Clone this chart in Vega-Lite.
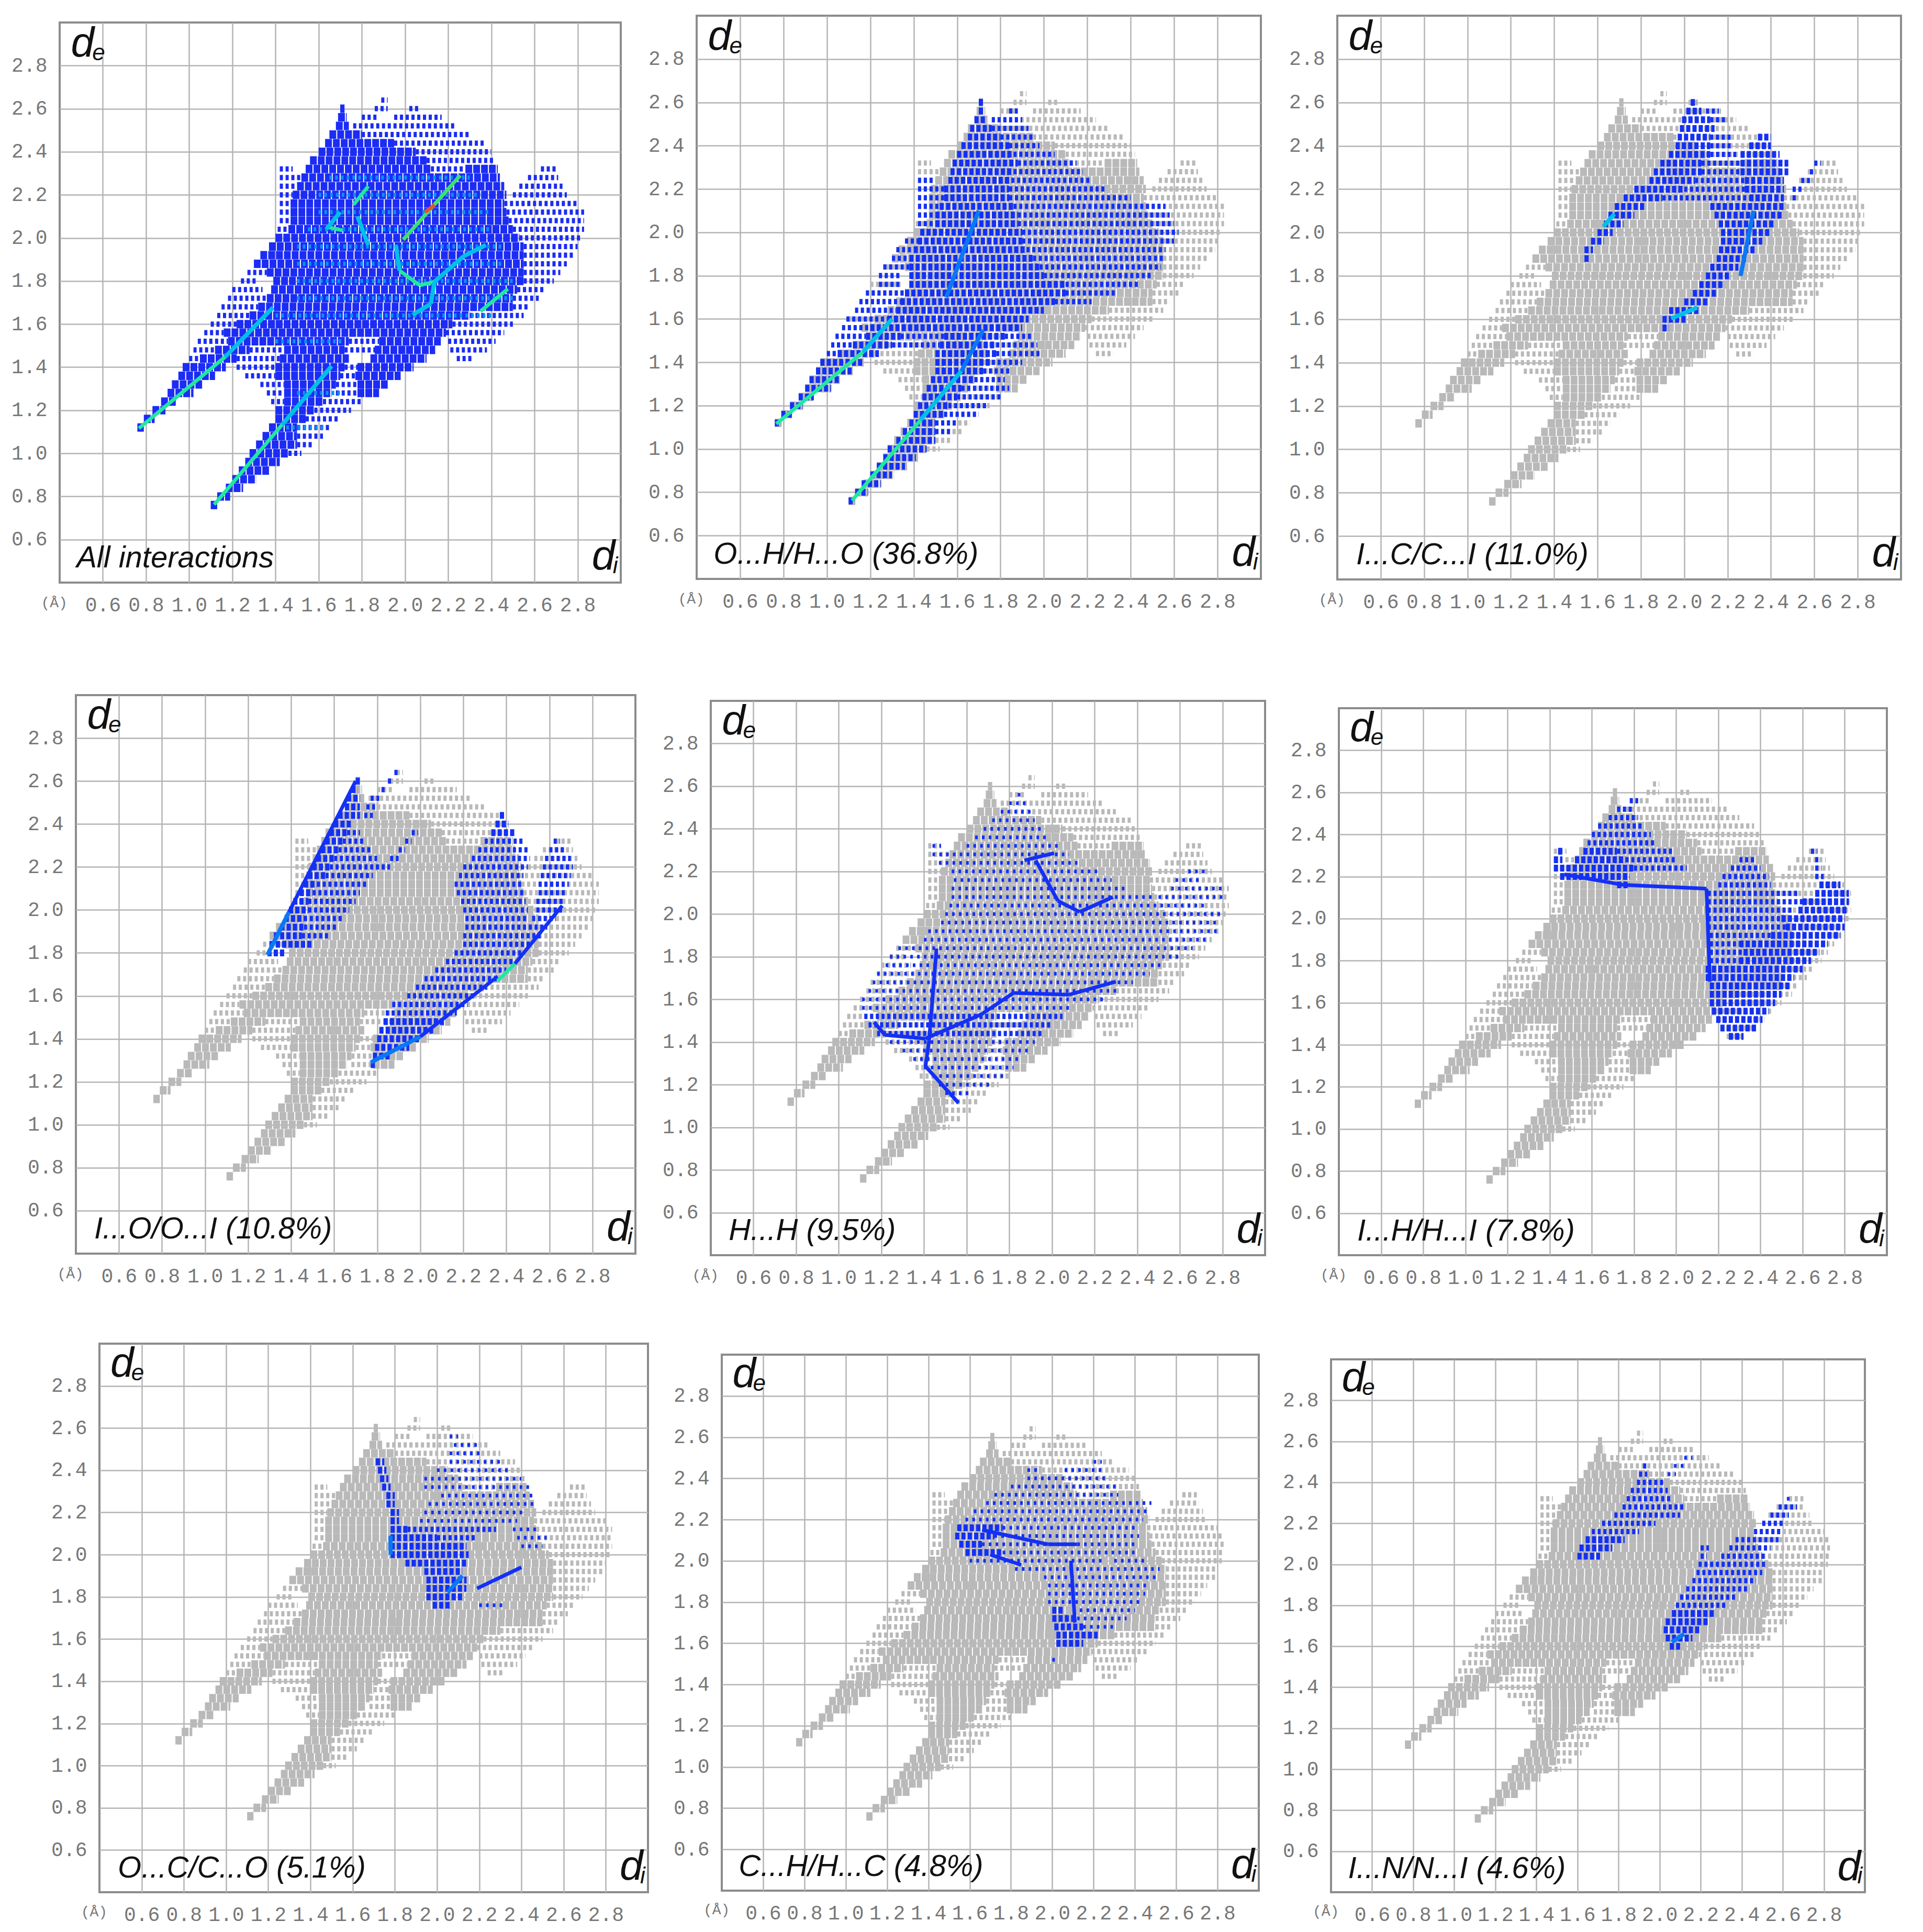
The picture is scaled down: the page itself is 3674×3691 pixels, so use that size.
{"$schema":"https://vega.github.io/schema/vega-lite/v6.json","padding":{"left":17,"top":28,"right":0,"bottom":0},"background":"white",
"config":{"view":{"stroke":null},"legend":{"disable":true},"axis":{"title":null,"domain":false,"ticks":false,"grid":true,"gridColor":"#b4b4b4","gridWidth":2.5,"labelFont":"Liberation Mono","labelFontSize":38,"labelColor":"#777777","labelOverlap":false,"labelFlush":false,"labelBound":false,"labelPadding":24}},
"datasets":{
"unit":[{"a":0.375,"y":0.305,"s":"(Å)"}],
"labels":[{"p":0,"a":0.452,"y":2.843,"s":"d","t":"L"},{"p":0,"a":0.551,"y":2.826,"s":"e","t":"M"},{"p":0,"a":2.866,"y":0.46,"s":"d","t":"L"},{"p":0,"a":2.963,"y":0.443,"s":"i","t":"M"},
{"p":1,"a":0.478,"y":0.47,"s":"All interactions","t":"T"},{"p":2,"a":0.478,"y":0.47,"s":"O...H/H...O (36.8%)","t":"T"},{"p":3,"a":0.487,"y":0.47,"s":"I...C/C...I (11.0%)","t":"T"},{"p":4,"a":0.485,"y":0.47,"s":"I...O/O...I (10.8%)","t":"T"},{"p":5,"a":0.484,"y":0.47,"s":"H...H (9.5%)","t":"T"},{"p":6,"a":0.487,"y":0.47,"s":"I...H/H...I (7.8%)","t":"T"},{"p":7,"a":0.487,"y":0.47,"s":"O...C/C...O (5.1%)","t":"T"},{"p":8,"a":0.482,"y":0.47,"s":"C...H/H...C (4.8%)","t":"T"},{"p":9,"a":0.483,"y":0.47,"s":"I...N/N...I (4.6%)","t":"T"}],
"cloud":[
{"y":0.76,"a":1.10,"b":1.13,"t":"a"},{"y":0.80,"a":1.13,"b":1.19,"t":"a"},{"y":0.84,"a":1.17,"b":1.25,"t":"a"},{"y":0.88,"a":1.20,"b":1.31,"t":"a"},{"y":0.92,"a":1.23,"b":1.37,"t":"a"},{"y":0.96,"a":1.26,"b":1.42,"t":"a"},
{"y":1.00,"a":1.28,"b":1.46,"t":"a"},{"y":1.00,"a":1.46,"b":1.52,"t":"b"},{"y":1.04,"a":1.31,"b":1.50,"t":"a"},{"y":1.04,"a":1.50,"b":1.58,"t":"b"},{"y":1.08,"a":1.34,"b":1.50,"t":"a"},{"y":1.08,"a":1.50,"b":1.62,"t":"b"},
{"y":1.12,"a":0.76,"b":0.79,"t":"a"},{"y":1.12,"a":1.37,"b":1.50,"t":"a"},{"y":1.12,"a":1.50,"b":1.66,"t":"b"},{"y":1.16,"a":0.79,"b":0.84,"t":"a"},{"y":1.16,"a":1.40,"b":1.54,"t":"a"},{"y":1.16,"a":1.54,"b":1.70,"t":"b"},
{"y":1.20,"a":0.83,"b":0.89,"t":"a"},{"y":1.20,"a":1.40,"b":1.58,"t":"a"},{"y":1.20,"a":1.58,"b":1.75,"t":"b"},{"y":1.24,"a":0.87,"b":0.94,"t":"a"},{"y":1.24,"a":1.38,"b":1.44,"t":"b"},{"y":1.24,"a":1.44,"b":1.62,"t":"a"},{"y":1.24,"a":1.62,"b":1.80,"t":"b"},
{"y":1.28,"a":0.90,"b":1.02,"t":"a"},{"y":1.28,"a":1.36,"b":1.44,"t":"b"},{"y":1.28,"a":1.44,"b":1.66,"t":"a"},{"y":1.28,"a":1.68,"b":1.78,"t":"b"},{"y":1.28,"a":1.78,"b":1.88,"t":"a"},
{"y":1.32,"a":0.92,"b":1.06,"t":"a"},{"y":1.32,"a":1.33,"b":1.44,"t":"b"},{"y":1.32,"a":1.44,"b":1.68,"t":"a"},{"y":1.32,"a":1.68,"b":1.78,"t":"b"},{"y":1.32,"a":1.78,"b":1.92,"t":"a"},
{"y":1.36,"a":0.95,"b":1.12,"t":"a"},{"y":1.36,"a":1.26,"b":1.40,"t":"b"},{"y":1.36,"a":1.40,"b":1.70,"t":"a"},{"y":1.36,"a":1.70,"b":1.77,"t":"b"},{"y":1.36,"a":1.77,"b":1.98,"t":"a"},
{"y":1.40,"a":0.97,"b":1.17,"t":"a"},{"y":1.40,"a":1.22,"b":1.40,"t":"b"},{"y":1.40,"a":1.40,"b":1.72,"t":"a"},{"y":1.40,"a":1.72,"b":1.78,"t":"b"},{"y":1.40,"a":1.78,"b":2.04,"t":"a"},
{"y":1.44,"a":1.00,"b":1.05,"t":"b"},{"y":1.44,"a":1.05,"b":1.22,"t":"a"},{"y":1.44,"a":1.22,"b":1.42,"t":"b"},{"y":1.44,"a":1.42,"b":1.74,"t":"a"},{"y":1.44,"a":1.84,"b":2.10,"t":"a"},{"y":1.44,"a":2.24,"b":2.32,"t":"b"},
{"y":1.48,"a":1.02,"b":1.12,"t":"b"},{"y":1.48,"a":1.12,"b":1.28,"t":"a"},{"y":1.48,"a":1.28,"b":1.44,"t":"b"},{"y":1.48,"a":1.44,"b":1.72,"t":"a"},{"y":1.48,"a":1.72,"b":1.86,"t":"b"},{"y":1.48,"a":1.86,"b":2.14,"t":"a"},{"y":1.48,"a":2.21,"b":2.38,"t":"b"},
{"y":1.52,"a":1.04,"b":1.18,"t":"b"},{"y":1.52,"a":1.18,"b":1.74,"t":"a"},{"y":1.52,"a":1.74,"b":1.88,"t":"b"},{"y":1.52,"a":1.88,"b":2.17,"t":"a"},{"y":1.52,"a":2.20,"b":2.42,"t":"b"},
{"y":1.56,"a":1.07,"b":1.16,"t":"b"},{"y":1.56,"a":1.16,"b":2.19,"t":"a"},{"y":1.56,"a":2.19,"b":2.46,"t":"b"},
{"y":1.60,"a":1.10,"b":1.22,"t":"b"},{"y":1.60,"a":1.22,"b":2.22,"t":"a"},{"y":1.60,"a":2.22,"b":2.50,"t":"b"},
{"y":1.64,"a":1.13,"b":1.28,"t":"b"},{"y":1.64,"a":1.28,"b":2.30,"t":"a"},{"y":1.64,"a":2.30,"b":2.55,"t":"b"},
{"y":1.68,"a":1.15,"b":1.32,"t":"b"},{"y":1.68,"a":1.32,"b":2.50,"t":"a"},{"y":1.68,"a":2.50,"b":2.58,"t":"b"},
{"y":1.72,"a":1.18,"b":1.36,"t":"b"},{"y":1.72,"a":1.36,"b":2.50,"t":"a"},{"y":1.72,"a":2.50,"b":2.62,"t":"b"},
{"y":1.76,"a":1.20,"b":1.34,"t":"b"},{"y":1.76,"a":1.38,"b":2.52,"t":"a"},{"y":1.76,"a":2.52,"b":2.65,"t":"b"},
{"y":1.80,"a":1.24,"b":1.32,"t":"b"},{"y":1.80,"a":1.39,"b":2.55,"t":"a"},{"y":1.80,"a":2.55,"b":2.69,"t":"b"},
{"y":1.84,"a":1.27,"b":1.36,"t":"b"},{"y":1.84,"a":1.36,"b":2.55,"t":"a"},{"y":1.84,"a":2.55,"b":2.72,"t":"b"},
{"y":1.88,"a":1.30,"b":2.55,"t":"a"},{"y":1.88,"a":2.55,"b":2.75,"t":"b"},{"y":1.92,"a":1.33,"b":2.55,"t":"a"},{"y":1.92,"a":2.55,"b":2.79,"t":"b"},{"y":1.96,"a":1.37,"b":2.55,"t":"a"},{"y":1.96,"a":2.55,"b":2.80,"t":"b"},
{"y":2.00,"a":1.40,"b":2.53,"t":"a"},{"y":2.00,"a":2.53,"b":2.82,"t":"b"},{"y":2.04,"a":1.41,"b":1.46,"t":"b"},{"y":2.04,"a":1.46,"b":2.50,"t":"a"},{"y":2.04,"a":2.50,"b":2.83,"t":"b"},
{"y":2.08,"a":1.42,"b":1.47,"t":"b"},{"y":2.08,"a":1.47,"b":2.48,"t":"a"},{"y":2.08,"a":2.48,"b":2.83,"t":"b"},{"y":2.12,"a":1.42,"b":1.47,"t":"b"},{"y":2.12,"a":1.47,"b":2.47,"t":"a"},{"y":2.12,"a":2.47,"b":2.83,"t":"b"},
{"y":2.16,"a":1.42,"b":1.47,"t":"b"},{"y":2.16,"a":1.47,"b":2.46,"t":"a"},{"y":2.16,"a":2.46,"b":2.80,"t":"b"},{"y":2.20,"a":1.42,"b":1.48,"t":"b"},{"y":2.20,"a":1.48,"b":2.47,"t":"a"},{"y":2.20,"a":2.50,"b":2.75,"t":"b"},
{"y":2.24,"a":1.42,"b":1.50,"t":"b"},{"y":2.24,"a":1.50,"b":2.46,"t":"a"},{"y":2.24,"a":2.53,"b":2.73,"t":"b"},{"y":2.28,"a":1.42,"b":1.52,"t":"b"},{"y":2.28,"a":1.52,"b":2.44,"t":"a"},{"y":2.28,"a":2.57,"b":2.71,"t":"b"},
{"y":2.32,"a":1.42,"b":1.48,"t":"b"},{"y":2.32,"a":1.54,"b":2.12,"t":"a"},{"y":2.32,"a":2.12,"b":2.28,"t":"b"},{"y":2.32,"a":2.28,"b":2.43,"t":"a"},{"y":2.32,"a":2.63,"b":2.70,"t":"b"},
{"y":2.36,"a":1.56,"b":2.10,"t":"a"},{"y":2.36,"a":2.10,"b":2.42,"t":"b"},{"y":2.40,"a":1.60,"b":2.05,"t":"a"},{"y":2.40,"a":2.05,"b":2.40,"t":"b"},{"y":2.44,"a":1.63,"b":1.95,"t":"a"},{"y":2.44,"a":1.95,"b":2.37,"t":"b"},
{"y":2.48,"a":1.65,"b":1.80,"t":"a"},{"y":2.48,"a":1.80,"b":2.30,"t":"b"},{"y":2.52,"a":1.68,"b":1.74,"t":"a"},{"y":2.52,"a":1.76,"b":2.24,"t":"b"},{"y":2.56,"a":1.69,"b":1.73,"t":"a"},{"y":2.56,"a":1.80,"b":1.87,"t":"b"},{"y":2.56,"a":1.95,"b":2.17,"t":"b"},
{"y":2.60,"a":1.70,"b":1.72,"t":"a"},{"y":2.60,"a":1.86,"b":1.92,"t":"b"},{"y":2.60,"a":2.02,"b":2.07,"t":"b"},{"y":2.64,"a":1.89,"b":1.92,"t":"b"}],
"blue":[
{"p":1,"y":1.12,"a":1.45,"b":1.62,"t":"m"},{"p":1,"y":1.28,"a":1.5,"b":1.7,"t":"m"},{"p":1,"y":1.52,"a":1.4,"b":1.72,"t":"m"},{"p":1,"y":1.64,"a":1.4,"b":2.4,"t":"m"},{"p":1,"y":1.72,"a":1.5,"b":2.5,"t":"m"},{"p":1,"y":1.80,"a":1.5,"b":2.5,"t":"m"},{"p":1,"y":1.88,"a":1.5,"b":2.45,"t":"m"},{"p":1,"y":1.96,"a":1.5,"b":2.45,"t":"m"},{"p":1,"y":2.04,"a":1.55,"b":2.4,"t":"m"},{"p":1,"y":2.12,"a":1.6,"b":2.4,"t":"m"},{"p":1,"y":2.20,"a":1.6,"b":2.35,"t":"m"},{"p":1,"y":2.28,"a":1.65,"b":2.3,"t":"m"},
{"p":2,"y":0.76,"a":1.10,"b":1.13,"t":"d"},{"p":2,"y":0.80,"a":1.13,"b":1.19,"t":"d"},{"p":2,"y":0.84,"a":1.16,"b":1.25,"t":"d"},{"p":2,"y":0.88,"a":1.20,"b":1.30,"t":"d"},{"p":2,"y":0.92,"a":1.23,"b":1.36,"t":"d"},{"p":2,"y":0.96,"a":1.26,"b":1.41,"t":"d"},{"p":2,"y":1.00,"a":1.28,"b":1.46,"t":"d"},{"p":2,"y":1.04,"a":1.32,"b":1.50,"t":"d"},{"p":2,"y":1.08,"a":1.35,"b":1.50,"t":"d"},{"p":2,"y":1.08,"a":1.50,"b":1.58,"t":"s"},
{"p":2,"y":1.12,"a":0.76,"b":0.79,"t":"d"},{"p":2,"y":1.12,"a":1.38,"b":1.50,"t":"d"},{"p":2,"y":1.12,"a":1.50,"b":1.60,"t":"s"},{"p":2,"y":1.16,"a":0.79,"b":0.84,"t":"d"},{"p":2,"y":1.16,"a":1.40,"b":1.54,"t":"d"},{"p":2,"y":1.16,"a":1.54,"b":1.70,"t":"s"},{"p":2,"y":1.20,"a":0.83,"b":0.89,"t":"d"},{"p":2,"y":1.20,"a":1.42,"b":1.56,"t":"d"},{"p":2,"y":1.20,"a":1.56,"b":1.74,"t":"s"},{"p":2,"y":1.24,"a":0.87,"b":0.94,"t":"d"},{"p":2,"y":1.24,"a":1.44,"b":1.60,"t":"d"},{"p":2,"y":1.24,"a":1.60,"b":1.80,"t":"s"},{"p":2,"y":1.28,"a":0.90,"b":1.02,"t":"d"},{"p":2,"y":1.28,"a":1.46,"b":1.62,"t":"d"},{"p":2,"y":1.28,"a":1.62,"b":1.84,"t":"s"},{"p":2,"y":1.32,"a":0.92,"b":1.06,"t":"d"},{"p":2,"y":1.32,"a":1.48,"b":1.68,"t":"d"},{"p":2,"y":1.32,"a":1.68,"b":1.82,"t":"s"},{"p":2,"y":1.36,"a":0.95,"b":1.12,"t":"d"},{"p":2,"y":1.36,"a":1.50,"b":1.72,"t":"d"},{"p":2,"y":1.36,"a":1.72,"b":1.85,"t":"s"},{"p":2,"y":1.40,"a":0.97,"b":1.17,"t":"d"},{"p":2,"y":1.40,"a":1.50,"b":1.76,"t":"d"},{"p":2,"y":1.40,"a":1.76,"b":1.90,"t":"s"},
{"p":2,"y":1.44,"a":1.00,"b":1.05,"t":"s"},{"p":2,"y":1.44,"a":1.05,"b":1.24,"t":"d"},{"p":2,"y":1.44,"a":1.50,"b":1.78,"t":"d"},{"p":2,"y":1.44,"a":1.78,"b":1.98,"t":"s"},{"p":2,"y":1.48,"a":1.02,"b":1.12,"t":"s"},{"p":2,"y":1.48,"a":1.12,"b":1.30,"t":"d"},{"p":2,"y":1.48,"a":1.30,"b":1.52,"t":"s"},{"p":2,"y":1.48,"a":1.52,"b":1.78,"t":"d"},{"p":2,"y":1.48,"a":1.78,"b":1.97,"t":"s"},{"p":2,"y":1.52,"a":1.04,"b":1.18,"t":"s"},{"p":2,"y":1.52,"a":1.18,"b":1.34,"t":"d"},{"p":2,"y":1.52,"a":1.34,"b":1.54,"t":"s"},{"p":2,"y":1.52,"a":1.54,"b":1.82,"t":"d"},{"p":2,"y":1.52,"a":1.82,"b":1.95,"t":"s"},{"p":2,"y":1.56,"a":1.07,"b":1.20,"t":"s"},{"p":2,"y":1.56,"a":1.20,"b":1.90,"t":"d"},
{"p":2,"y":1.60,"a":1.09,"b":1.28,"t":"s"},{"p":2,"y":1.60,"a":1.28,"b":1.93,"t":"d"},{"p":2,"y":1.64,"a":1.13,"b":1.32,"t":"s"},{"p":2,"y":1.64,"a":1.32,"b":2.00,"t":"d"},{"p":2,"y":1.68,"a":1.15,"b":1.34,"t":"s"},{"p":2,"y":1.68,"a":1.34,"b":2.05,"t":"d"},{"p":2,"y":1.68,"a":2.05,"b":2.22,"t":"s"},{"p":2,"y":1.72,"a":1.18,"b":1.36,"t":"s"},{"p":2,"y":1.72,"a":1.36,"b":2.10,"t":"d"},{"p":2,"y":1.72,"a":2.10,"b":2.33,"t":"s"},{"p":2,"y":1.76,"a":1.24,"b":1.34,"t":"s"},{"p":2,"y":1.76,"a":1.38,"b":2.10,"t":"d"},{"p":2,"y":1.76,"a":2.10,"b":2.44,"t":"s"},{"p":2,"y":1.80,"a":1.24,"b":1.34,"t":"s"},{"p":2,"y":1.80,"a":1.38,"b":2.00,"t":"d"},{"p":2,"y":1.80,"a":2.00,"b":2.50,"t":"s"},{"p":2,"y":1.84,"a":1.26,"b":1.38,"t":"s"},{"p":2,"y":1.84,"a":1.38,"b":1.98,"t":"d"},{"p":2,"y":1.84,"a":1.98,"b":2.54,"t":"s"},{"p":2,"y":1.88,"a":1.30,"b":1.38,"t":"s"},{"p":2,"y":1.88,"a":1.38,"b":1.95,"t":"d"},{"p":2,"y":1.88,"a":1.95,"b":2.56,"t":"s"},{"p":2,"y":1.92,"a":1.32,"b":1.40,"t":"s"},{"p":2,"y":1.92,"a":1.40,"b":1.92,"t":"d"},{"p":2,"y":1.92,"a":1.92,"b":2.56,"t":"s"},{"p":2,"y":1.96,"a":1.36,"b":1.42,"t":"s"},{"p":2,"y":1.96,"a":1.42,"b":1.90,"t":"d"},{"p":2,"y":1.96,"a":1.90,"b":2.60,"t":"s"},{"p":2,"y":2.00,"a":1.43,"b":1.90,"t":"d"},{"p":2,"y":2.00,"a":1.90,"b":2.62,"t":"s"},
{"p":2,"y":2.04,"a":1.42,"b":1.50,"t":"s"},{"p":2,"y":2.04,"a":1.50,"b":1.88,"t":"d"},{"p":2,"y":2.04,"a":1.88,"b":2.60,"t":"s"},{"p":2,"y":2.08,"a":1.42,"b":1.50,"t":"s"},{"p":2,"y":2.08,"a":1.50,"b":1.88,"t":"d"},{"p":2,"y":2.08,"a":1.88,"b":2.58,"t":"s"},{"p":2,"y":2.12,"a":1.42,"b":1.52,"t":"s"},{"p":2,"y":2.12,"a":1.52,"b":1.86,"t":"d"},{"p":2,"y":2.12,"a":1.86,"b":2.56,"t":"s"},{"p":2,"y":2.16,"a":1.42,"b":1.54,"t":"s"},{"p":2,"y":2.16,"a":1.54,"b":1.84,"t":"d"},{"p":2,"y":2.16,"a":1.84,"b":2.40,"t":"s"},{"p":2,"y":2.20,"a":1.42,"b":1.54,"t":"s"},{"p":2,"y":2.20,"a":1.54,"b":1.84,"t":"d"},{"p":2,"y":2.20,"a":1.84,"b":2.28,"t":"s"},{"p":2,"y":2.24,"a":1.42,"b":1.50,"t":"s"},{"p":2,"y":2.24,"a":1.56,"b":1.85,"t":"d"},{"p":2,"y":2.24,"a":1.85,"b":2.22,"t":"s"},{"p":2,"y":2.28,"a":1.57,"b":1.86,"t":"d"},{"p":2,"y":2.28,"a":1.86,"b":2.18,"t":"s"},{"p":2,"y":2.32,"a":1.58,"b":1.88,"t":"d"},{"p":2,"y":2.32,"a":1.88,"b":2.15,"t":"s"},{"p":2,"y":2.36,"a":1.60,"b":1.86,"t":"d"},{"p":2,"y":2.36,"a":1.86,"b":2.05,"t":"s"},{"p":2,"y":2.40,"a":1.62,"b":1.84,"t":"d"},{"p":2,"y":2.40,"a":1.84,"b":1.98,"t":"s"},{"p":2,"y":2.44,"a":1.65,"b":1.80,"t":"d"},{"p":2,"y":2.44,"a":1.80,"b":1.96,"t":"s"},{"p":2,"y":2.48,"a":1.66,"b":1.76,"t":"d"},{"p":2,"y":2.48,"a":1.76,"b":1.93,"t":"s"},{"p":2,"y":2.52,"a":1.68,"b":1.73,"t":"d"},{"p":2,"y":2.52,"a":1.76,"b":1.90,"t":"s"},{"p":2,"y":2.56,"a":1.70,"b":1.72,"t":"d"},{"p":2,"y":2.56,"a":1.84,"b":1.88,"t":"s"},{"p":2,"y":2.60,"a":1.70,"b":1.72,"t":"d"},
{"p":3,"y":1.56,"a":1.90,"b":1.93,"t":"d"},{"p":3,"y":1.60,"a":1.90,"b":2.01,"t":"d"},{"p":3,"y":1.64,"a":1.93,"b":2.07,"t":"d"},{"p":3,"y":1.68,"a":2.00,"b":2.11,"t":"d"},{"p":3,"y":1.72,"a":2.04,"b":2.15,"t":"d"},{"p":3,"y":1.76,"a":2.07,"b":2.18,"t":"d"},{"p":3,"y":1.80,"a":2.10,"b":2.21,"t":"d"},{"p":3,"y":1.84,"a":2.12,"b":2.25,"t":"d"},{"p":3,"y":1.88,"a":1.54,"b":1.56,"t":"d"},{"p":3,"y":1.88,"a":2.15,"b":2.29,"t":"d"},{"p":3,"y":1.92,"a":1.54,"b":1.58,"t":"d"},{"p":3,"y":1.92,"a":2.16,"b":2.33,"t":"d"},{"p":3,"y":1.96,"a":1.57,"b":1.63,"t":"d"},{"p":3,"y":1.96,"a":2.17,"b":2.36,"t":"d"},{"p":3,"y":2.00,"a":1.60,"b":1.67,"t":"d"},{"p":3,"y":2.00,"a":2.17,"b":2.40,"t":"d"},{"p":3,"y":2.04,"a":1.63,"b":1.72,"t":"d"},{"p":3,"y":2.04,"a":2.16,"b":2.42,"t":"d"},{"p":3,"y":2.08,"a":1.65,"b":1.77,"t":"d"},{"p":3,"y":2.08,"a":2.14,"b":2.45,"t":"d"},{"p":3,"y":2.12,"a":1.68,"b":1.82,"t":"d"},{"p":3,"y":2.12,"a":2.12,"b":2.46,"t":"d"},{"p":3,"y":2.16,"a":1.72,"b":1.90,"t":"d"},{"p":3,"y":2.16,"a":1.90,"b":2.30,"t":"s"},{"p":3,"y":2.16,"a":2.30,"b":2.46,"t":"d"},{"p":3,"y":2.16,"a":2.50,"b":2.52,"t":"s"},{"p":3,"y":2.20,"a":1.77,"b":2.00,"t":"d"},{"p":3,"y":2.20,"a":2.00,"b":2.28,"t":"s"},{"p":3,"y":2.20,"a":2.28,"b":2.46,"t":"d"},{"p":3,"y":2.20,"a":2.50,"b":2.55,"t":"s"},{"p":3,"y":2.24,"a":1.84,"b":2.05,"t":"d"},{"p":3,"y":2.24,"a":2.05,"b":2.28,"t":"s"},{"p":3,"y":2.24,"a":2.28,"b":2.46,"t":"d"},{"p":3,"y":2.24,"a":2.54,"b":2.58,"t":"s"},{"p":3,"y":2.28,"a":1.86,"b":2.08,"t":"d"},{"p":3,"y":2.28,"a":2.08,"b":2.26,"t":"s"},{"p":3,"y":2.28,"a":2.26,"b":2.48,"t":"d"},{"p":3,"y":2.28,"a":2.58,"b":2.60,"t":"s"},{"p":3,"y":2.32,"a":1.89,"b":2.08,"t":"d"},{"p":3,"y":2.32,"a":2.08,"b":2.26,"t":"s"},{"p":3,"y":2.32,"a":2.26,"b":2.48,"t":"d"},{"p":3,"y":2.32,"a":2.60,"b":2.63,"t":"s"},{"p":3,"y":2.36,"a":1.93,"b":2.12,"t":"d"},{"p":3,"y":2.36,"a":2.12,"b":2.24,"t":"s"},{"p":3,"y":2.36,"a":2.26,"b":2.44,"t":"d"},{"p":3,"y":2.40,"a":1.96,"b":2.12,"t":"d"},{"p":3,"y":2.40,"a":2.12,"b":2.22,"t":"s"},{"p":3,"y":2.40,"a":2.30,"b":2.40,"t":"d"},{"p":3,"y":2.44,"a":1.97,"b":2.12,"t":"d"},{"p":3,"y":2.44,"a":2.12,"b":2.22,"t":"s"},{"p":3,"y":2.44,"a":2.34,"b":2.40,"t":"d"},{"p":3,"y":2.48,"a":1.98,"b":2.14,"t":"d"},{"p":3,"y":2.52,"a":1.99,"b":2.12,"t":"d"},{"p":3,"y":2.52,"a":2.12,"b":2.20,"t":"s"},{"p":3,"y":2.56,"a":2.01,"b":2.08,"t":"d"},{"p":3,"y":2.56,"a":2.10,"b":2.16,"t":"s"},{"p":3,"y":2.60,"a":2.03,"b":2.06,"t":"d"},
{"p":4,"y":1.80,"a":1.29,"b":1.37,"t":"d"},{"p":4,"y":1.84,"a":1.30,"b":1.50,"t":"d"},{"p":4,"y":1.88,"a":1.32,"b":1.45,"t":"d"},{"p":4,"y":1.88,"a":1.45,"b":1.58,"t":"s"},{"p":4,"y":1.92,"a":1.35,"b":1.46,"t":"d"},{"p":4,"y":1.92,"a":1.46,"b":1.61,"t":"s"},{"p":4,"y":1.96,"a":1.37,"b":1.46,"t":"d"},{"p":4,"y":1.96,"a":1.46,"b":1.64,"t":"s"},{"p":4,"y":2.00,"a":1.39,"b":1.48,"t":"d"},{"p":4,"y":2.00,"a":1.48,"b":1.67,"t":"s"},{"p":4,"y":2.04,"a":1.41,"b":1.48,"t":"d"},{"p":4,"y":2.04,"a":1.48,"b":1.70,"t":"s"},{"p":4,"y":2.08,"a":1.44,"b":1.50,"t":"d"},{"p":4,"y":2.08,"a":1.50,"b":1.72,"t":"s"},{"p":4,"y":2.12,"a":1.46,"b":1.52,"t":"d"},{"p":4,"y":2.12,"a":1.52,"b":1.75,"t":"s"},{"p":4,"y":2.16,"a":1.48,"b":1.56,"t":"d"},{"p":4,"y":2.16,"a":1.56,"b":1.78,"t":"s"},{"p":4,"y":2.20,"a":1.50,"b":1.58,"t":"d"},{"p":4,"y":2.20,"a":1.58,"b":1.86,"t":"s"},{"p":4,"y":2.24,"a":1.52,"b":1.60,"t":"d"},{"p":4,"y":2.24,"a":1.60,"b":1.80,"t":"s"},{"p":4,"y":2.24,"a":1.86,"b":1.90,"t":"s"},{"p":4,"y":2.28,"a":1.54,"b":1.62,"t":"d"},{"p":4,"y":2.28,"a":1.62,"b":1.78,"t":"s"},{"p":4,"y":2.28,"a":1.90,"b":1.93,"t":"s"},{"p":4,"y":2.32,"a":1.56,"b":1.64,"t":"d"},{"p":4,"y":2.32,"a":1.64,"b":1.74,"t":"s"},{"p":4,"y":2.32,"a":1.93,"b":1.96,"t":"s"},{"p":4,"y":2.36,"a":1.58,"b":1.66,"t":"d"},{"p":4,"y":2.36,"a":1.66,"b":1.72,"t":"s"},{"p":4,"y":2.36,"a":1.96,"b":1.99,"t":"s"},{"p":4,"y":2.40,"a":1.60,"b":1.68,"t":"d"},{"p":4,"y":2.44,"a":1.62,"b":1.72,"t":"d"},{"p":4,"y":2.44,"a":1.74,"b":1.78,"t":"s"},{"p":4,"y":2.48,"a":1.65,"b":1.72,"t":"d"},{"p":4,"y":2.48,"a":1.75,"b":1.79,"t":"s"},{"p":4,"y":2.52,"a":1.66,"b":1.72,"t":"d"},{"p":4,"y":2.52,"a":1.77,"b":1.81,"t":"s"},{"p":4,"y":2.56,"a":1.68,"b":1.71,"t":"d"},{"p":4,"y":2.56,"a":1.82,"b":1.84,"t":"s"},{"p":4,"y":2.60,"a":1.70,"b":1.72,"t":"d"},{"p":4,"y":2.60,"a":1.85,"b":1.87,"t":"s"},{"p":4,"y":2.64,"a":1.88,"b":1.90,"t":"s"},
{"p":4,"y":1.28,"a":1.77,"b":1.79,"t":"d"},{"p":4,"y":1.32,"a":1.78,"b":1.86,"t":"d"},{"p":4,"y":1.36,"a":1.79,"b":1.95,"t":"d"},{"p":4,"y":1.40,"a":1.80,"b":2.00,"t":"d"},{"p":4,"y":1.44,"a":1.81,"b":2.06,"t":"d"},{"p":4,"y":1.48,"a":1.83,"b":2.11,"t":"d"},{"p":4,"y":1.52,"a":1.84,"b":2.17,"t":"s"},{"p":4,"y":1.56,"a":1.87,"b":2.22,"t":"s"},{"p":4,"y":1.60,"a":1.94,"b":2.26,"t":"s"},{"p":4,"y":1.64,"a":1.98,"b":2.31,"t":"s"},{"p":4,"y":1.68,"a":2.02,"b":2.36,"t":"s"},{"p":4,"y":1.72,"a":2.07,"b":2.40,"t":"s"},{"p":4,"y":1.76,"a":2.12,"b":2.44,"t":"s"},{"p":4,"y":1.80,"a":2.16,"b":2.48,"t":"s"},{"p":4,"y":1.84,"a":2.20,"b":2.52,"t":"s"},{"p":4,"y":1.88,"a":2.20,"b":2.56,"t":"s"},{"p":4,"y":1.92,"a":2.21,"b":2.59,"t":"s"},{"p":4,"y":1.96,"a":2.21,"b":2.50,"t":"s"},{"p":4,"y":1.96,"a":2.52,"b":2.63,"t":"s"},{"p":4,"y":2.00,"a":2.20,"b":2.50,"t":"s"},{"p":4,"y":2.00,"a":2.54,"b":2.66,"t":"s"},{"p":4,"y":2.04,"a":2.19,"b":2.49,"t":"s"},{"p":4,"y":2.04,"a":2.54,"b":2.67,"t":"s"},{"p":4,"y":2.08,"a":2.17,"b":2.49,"t":"s"},{"p":4,"y":2.08,"a":2.55,"b":2.68,"t":"s"},{"p":4,"y":2.12,"a":2.16,"b":2.48,"t":"s"},{"p":4,"y":2.12,"a":2.55,"b":2.69,"t":"s"},{"p":4,"y":2.16,"a":2.18,"b":2.48,"t":"s"},{"p":4,"y":2.16,"a":2.56,"b":2.70,"t":"s"},{"p":4,"y":2.20,"a":2.20,"b":2.50,"t":"s"},{"p":4,"y":2.20,"a":2.57,"b":2.71,"t":"s"},{"p":4,"y":2.24,"a":2.24,"b":2.51,"t":"s"},{"p":4,"y":2.24,"a":2.58,"b":2.70,"t":"s"},{"p":4,"y":2.28,"a":2.27,"b":2.51,"t":"s"},{"p":4,"y":2.28,"a":2.60,"b":2.67,"t":"s"},{"p":4,"y":2.32,"a":2.30,"b":2.48,"t":"s"},{"p":4,"y":2.32,"a":2.62,"b":2.65,"t":"s"},{"p":4,"y":2.36,"a":2.33,"b":2.44,"t":"d"},{"p":4,"y":2.40,"a":2.35,"b":2.41,"t":"d"},{"p":4,"y":2.44,"a":2.37,"b":2.39,"t":"d"},
{"p":5,"y":1.12,"a":1.55,"b":1.58,"t":"v"},{"p":5,"y":1.16,"a":1.50,"b":1.62,"t":"v"},{"p":5,"y":1.20,"a":1.47,"b":1.72,"t":"v"},{"p":5,"y":1.24,"a":1.44,"b":1.78,"t":"v"},{"p":5,"y":1.28,"a":1.40,"b":1.82,"t":"v"},{"p":5,"y":1.32,"a":1.35,"b":1.86,"t":"v"},{"p":5,"y":1.36,"a":1.30,"b":1.90,"t":"v"},{"p":5,"y":1.40,"a":1.24,"b":1.92,"t":"v"},{"p":5,"y":1.44,"a":1.18,"b":1.96,"t":"s"},{"p":5,"y":1.48,"a":1.14,"b":2.00,"t":"s"},{"p":5,"y":1.52,"a":1.12,"b":2.05,"t":"s"},{"p":5,"y":1.56,"a":1.11,"b":2.10,"t":"v"},{"p":5,"y":1.60,"a":1.11,"b":2.25,"t":"v"},{"p":5,"y":1.64,"a":1.14,"b":2.32,"t":"v"},{"p":5,"y":1.68,"a":1.16,"b":2.38,"t":"v"},{"p":5,"y":1.72,"a":1.18,"b":2.46,"t":"v"},{"p":5,"y":1.76,"a":1.22,"b":2.52,"t":"v"},{"p":5,"y":1.80,"a":1.24,"b":2.60,"t":"v"},{"p":5,"y":1.84,"a":1.28,"b":2.66,"t":"v"},{"p":5,"y":1.88,"a":1.40,"b":2.74,"t":"v"},{"p":5,"y":1.92,"a":1.42,"b":2.78,"t":"v"},{"p":5,"y":1.96,"a":1.48,"b":2.78,"t":"v"},{"p":5,"y":2.00,"a":1.50,"b":2.79,"t":"v"},{"p":5,"y":2.04,"a":1.52,"b":2.72,"t":"v"},{"p":5,"y":2.08,"a":1.53,"b":2.48,"t":"v"},{"p":5,"y":2.08,"a":2.50,"b":2.80,"t":"v"},{"p":5,"y":2.12,"a":1.53,"b":2.35,"t":"v"},{"p":5,"y":2.12,"a":2.56,"b":2.80,"t":"v"},{"p":5,"y":2.16,"a":1.54,"b":2.28,"t":"v"},{"p":5,"y":2.16,"a":2.58,"b":2.70,"t":"v"},{"p":5,"y":2.20,"a":1.53,"b":2.22,"t":"v"},{"p":5,"y":2.20,"a":2.64,"b":2.72,"t":"v"},{"p":5,"y":2.24,"a":1.47,"b":2.12,"t":"v"},{"p":5,"y":2.28,"a":1.44,"b":2.08,"t":"v"},{"p":5,"y":2.32,"a":1.44,"b":1.48,"t":"v"},{"p":5,"y":2.32,"a":1.60,"b":2.04,"t":"v"},{"p":5,"y":2.36,"a":1.64,"b":1.98,"t":"v"},{"p":5,"y":2.40,"a":1.68,"b":1.96,"t":"v"},{"p":5,"y":2.44,"a":1.72,"b":1.92,"t":"v"},{"p":5,"y":2.48,"a":1.76,"b":1.90,"t":"v"},{"p":5,"y":2.52,"a":1.80,"b":1.88,"t":"v"},{"p":5,"y":2.56,"a":1.84,"b":1.86,"t":"v"},
{"p":6,"y":1.44,"a":2.25,"b":2.32,"t":"d"},{"p":6,"y":1.48,"a":2.21,"b":2.38,"t":"d"},{"p":6,"y":1.52,"a":2.19,"b":2.41,"t":"d"},{"p":6,"y":1.56,"a":2.17,"b":2.44,"t":"d"},{"p":6,"y":1.60,"a":2.16,"b":2.47,"t":"d"},{"p":6,"y":1.64,"a":2.16,"b":2.50,"t":"d"},{"p":6,"y":1.68,"a":2.16,"b":2.54,"t":"d"},{"p":6,"y":1.72,"a":2.14,"b":2.56,"t":"d"},{"p":6,"y":1.76,"a":2.14,"b":2.60,"t":"d"},{"p":6,"y":1.80,"a":2.16,"b":2.30,"t":"s"},{"p":6,"y":1.80,"a":2.30,"b":2.64,"t":"d"},{"p":6,"y":1.84,"a":2.16,"b":2.32,"t":"s"},{"p":6,"y":1.84,"a":2.32,"b":2.68,"t":"d"},{"p":6,"y":1.88,"a":2.16,"b":2.30,"t":"s"},{"p":6,"y":1.88,"a":2.30,"b":2.72,"t":"d"},{"p":6,"y":1.92,"a":2.16,"b":2.45,"t":"s"},{"p":6,"y":1.92,"a":2.45,"b":2.78,"t":"d"},{"p":6,"y":1.96,"a":2.15,"b":2.52,"t":"s"},{"p":6,"y":1.96,"a":2.52,"b":2.80,"t":"d"},{"p":6,"y":2.00,"a":2.15,"b":2.50,"t":"s"},{"p":6,"y":2.00,"a":2.50,"b":2.80,"t":"d"},{"p":6,"y":2.04,"a":2.15,"b":2.55,"t":"s"},{"p":6,"y":2.04,"a":2.58,"b":2.81,"t":"d"},{"p":6,"y":2.08,"a":2.15,"b":2.60,"t":"s"},{"p":6,"y":2.08,"a":2.60,"b":2.82,"t":"d"},{"p":6,"y":2.12,"a":2.15,"b":2.58,"t":"s"},{"p":6,"y":2.12,"a":2.66,"b":2.82,"t":"d"},{"p":6,"y":2.16,"a":2.20,"b":2.45,"t":"s"},{"p":6,"y":2.16,"a":2.68,"b":2.78,"t":"d"},{"p":6,"y":2.20,"a":2.22,"b":2.44,"t":"s"},{"p":6,"y":2.20,"a":2.66,"b":2.70,"t":"s"},{"p":6,"y":2.24,"a":2.26,"b":2.40,"t":"s"},{"p":6,"y":2.24,"a":2.66,"b":2.69,"t":"s"},{"p":6,"y":2.28,"a":2.30,"b":2.38,"t":"s"},{"p":6,"y":2.28,"a":2.66,"b":2.68,"t":"s"},{"p":6,"y":2.32,"a":2.64,"b":2.67,"t":"s"},{"p":6,"y":2.16,"a":1.72,"b":1.78,"t":"d"},{"p":6,"y":2.20,"a":1.45,"b":1.78,"t":"d"},{"p":6,"y":2.24,"a":1.42,"b":1.80,"t":"d"},{"p":6,"y":2.24,"a":1.80,"b":2.05,"t":"s"},{"p":6,"y":2.28,"a":1.42,"b":1.46,"t":"d"},{"p":6,"y":2.28,"a":1.52,"b":1.76,"t":"d"},{"p":6,"y":2.28,"a":1.76,"b":2.00,"t":"s"},{"p":6,"y":2.32,"a":1.44,"b":1.47,"t":"d"},{"p":6,"y":2.32,"a":1.56,"b":1.72,"t":"d"},{"p":6,"y":2.32,"a":1.72,"b":1.98,"t":"s"},{"p":6,"y":2.36,"a":1.58,"b":1.90,"t":"s"},{"p":6,"y":2.40,"a":1.60,"b":1.88,"t":"s"},{"p":6,"y":2.44,"a":1.63,"b":1.84,"t":"s"},{"p":6,"y":2.48,"a":1.68,"b":1.82,"t":"s"},{"p":6,"y":2.52,"a":1.72,"b":1.80,"t":"s"},{"p":6,"y":2.56,"a":1.78,"b":1.82,"t":"s"},
{"p":7,"y":1.76,"a":1.98,"b":2.06,"t":"d"},{"p":7,"y":1.76,"a":2.20,"b":2.32,"t":"v"},{"p":7,"y":1.80,"a":1.95,"b":2.12,"t":"d"},{"p":7,"y":1.84,"a":1.95,"b":2.14,"t":"d"},{"p":7,"y":1.88,"a":1.95,"b":2.14,"t":"d"},{"p":7,"y":1.92,"a":1.94,"b":2.12,"t":"d"},{"p":7,"y":1.96,"a":1.85,"b":2.14,"t":"d"},{"p":7,"y":2.00,"a":1.78,"b":2.15,"t":"d"},{"p":7,"y":2.04,"a":1.78,"b":2.14,"t":"d"},{"p":7,"y":2.04,"a":2.40,"b":2.50,"t":"v"},{"p":7,"y":2.08,"a":1.78,"b":2.00,"t":"d"},{"p":7,"y":2.08,"a":2.00,"b":2.18,"t":"s"},{"p":7,"y":2.08,"a":2.38,"b":2.52,"t":"v"},{"p":7,"y":2.12,"a":1.78,"b":1.86,"t":"d"},{"p":7,"y":2.12,"a":1.86,"b":2.28,"t":"s"},{"p":7,"y":2.12,"a":2.36,"b":2.48,"t":"v"},{"p":7,"y":2.16,"a":1.78,"b":1.82,"t":"d"},{"p":7,"y":2.16,"a":1.92,"b":2.38,"t":"v"},{"p":7,"y":2.20,"a":1.78,"b":1.82,"t":"d"},{"p":7,"y":2.20,"a":1.94,"b":2.42,"t":"v"},{"p":7,"y":2.24,"a":1.76,"b":1.80,"t":"d"},{"p":7,"y":2.24,"a":1.96,"b":2.46,"t":"v"},{"p":7,"y":2.28,"a":1.76,"b":1.80,"t":"d"},{"p":7,"y":2.28,"a":2.02,"b":2.46,"t":"v"},{"p":7,"y":2.32,"a":1.74,"b":1.78,"t":"d"},{"p":7,"y":2.32,"a":1.94,"b":2.44,"t":"v"},{"p":7,"y":2.36,"a":1.73,"b":1.77,"t":"d"},{"p":7,"y":2.36,"a":1.94,"b":2.40,"t":"v"},{"p":7,"y":2.40,"a":1.72,"b":1.76,"t":"d"},{"p":7,"y":2.40,"a":2.00,"b":2.34,"t":"v"},{"p":7,"y":2.44,"a":1.71,"b":1.75,"t":"d"},{"p":7,"y":2.44,"a":2.06,"b":2.30,"t":"v"},{"p":7,"y":2.48,"a":2.06,"b":2.22,"t":"v"},{"p":7,"y":2.52,"a":2.08,"b":2.20,"t":"v"},{"p":7,"y":2.56,"a":2.06,"b":2.10,"t":"v"},
{"p":8,"y":1.52,"a":2.00,"b":2.03,"t":"v"},{"p":8,"y":1.60,"a":2.02,"b":2.15,"t":"d"},{"p":8,"y":1.64,"a":2.02,"b":2.22,"t":"d"},{"p":8,"y":1.68,"a":2.01,"b":2.15,"t":"d"},{"p":8,"y":1.68,"a":2.15,"b":2.30,"t":"v"},{"p":8,"y":1.72,"a":2.00,"b":2.12,"t":"d"},{"p":8,"y":1.72,"a":2.12,"b":2.36,"t":"v"},{"p":8,"y":1.76,"a":2.00,"b":2.06,"t":"d"},{"p":8,"y":1.76,"a":2.10,"b":2.40,"t":"v"},{"p":8,"y":1.80,"a":1.98,"b":2.44,"t":"v"},{"p":8,"y":1.84,"a":1.98,"b":2.45,"t":"v"},{"p":8,"y":1.88,"a":1.98,"b":2.46,"t":"v"},{"p":8,"y":1.92,"a":1.96,"b":2.50,"t":"v"},{"p":8,"y":1.96,"a":1.82,"b":2.52,"t":"v"},{"p":8,"y":2.00,"a":1.60,"b":2.24,"t":"v"},{"p":8,"y":2.00,"a":2.30,"b":2.46,"t":"v"},{"p":8,"y":2.04,"a":1.58,"b":1.76,"t":"d"},{"p":8,"y":2.04,"a":1.76,"b":2.40,"t":"v"},{"p":8,"y":2.08,"a":1.55,"b":1.66,"t":"d"},{"p":8,"y":2.08,"a":1.66,"b":2.40,"t":"v"},{"p":8,"y":2.12,"a":1.53,"b":1.72,"t":"d"},{"p":8,"y":2.12,"a":1.72,"b":2.42,"t":"v"},{"p":8,"y":2.16,"a":1.54,"b":1.76,"t":"d"},{"p":8,"y":2.16,"a":1.76,"b":2.42,"t":"v"},{"p":8,"y":2.20,"a":1.58,"b":2.44,"t":"v"},{"p":8,"y":2.24,"a":1.62,"b":2.46,"t":"v"},{"p":8,"y":2.28,"a":1.68,"b":2.48,"t":"v"},{"p":8,"y":2.32,"a":1.72,"b":2.32,"t":"v"},{"p":8,"y":2.36,"a":1.80,"b":2.32,"t":"v"},{"p":8,"y":2.40,"a":1.88,"b":2.26,"t":"v"},{"p":8,"y":2.44,"a":1.88,"b":1.94,"t":"v"},{"p":8,"y":2.44,"a":2.06,"b":2.24,"t":"v"},{"p":8,"y":2.48,"a":2.20,"b":2.24,"t":"v"},
{"p":9,"y":2.04,"a":1.60,"b":1.71,"t":"d"},{"p":9,"y":2.08,"a":1.61,"b":1.77,"t":"d"},{"p":9,"y":2.12,"a":1.64,"b":1.83,"t":"d"},{"p":9,"y":2.16,"a":1.67,"b":1.90,"t":"s"},{"p":9,"y":2.20,"a":1.72,"b":1.98,"t":"s"},{"p":9,"y":2.24,"a":1.78,"b":2.10,"t":"s"},{"p":9,"y":2.28,"a":1.82,"b":2.12,"t":"s"},{"p":9,"y":2.32,"a":1.84,"b":2.06,"t":"s"},{"p":9,"y":2.36,"a":1.86,"b":2.04,"t":"s"},{"p":9,"y":2.40,"a":1.89,"b":2.02,"t":"s"},{"p":9,"y":2.44,"a":1.90,"b":1.94,"t":"s"},{"p":9,"y":2.44,"a":2.04,"b":2.08,"t":"v"},{"p":9,"y":2.48,"a":1.92,"b":1.94,"t":"s"},{"p":9,"y":2.48,"a":2.07,"b":2.12,"t":"v"},{"p":9,"y":2.52,"a":2.12,"b":2.16,"t":"v"},{"p":9,"y":1.60,"a":2.05,"b":2.10,"t":"d"},{"p":9,"y":1.64,"a":2.03,"b":2.16,"t":"d"},{"p":9,"y":1.68,"a":2.02,"b":2.20,"t":"d"},{"p":9,"y":1.72,"a":2.03,"b":2.24,"t":"d"},{"p":9,"y":1.76,"a":2.06,"b":2.27,"t":"d"},{"p":9,"y":1.80,"a":2.08,"b":2.32,"t":"s"},{"p":9,"y":1.84,"a":2.10,"b":2.38,"t":"s"},{"p":9,"y":1.88,"a":2.13,"b":2.43,"t":"s"},{"p":9,"y":1.92,"a":2.16,"b":2.47,"t":"s"},{"p":9,"y":1.96,"a":2.18,"b":2.50,"t":"s"},{"p":9,"y":2.00,"a":2.19,"b":2.52,"t":"s"},{"p":9,"y":2.04,"a":2.20,"b":2.23,"t":"s"},{"p":9,"y":2.04,"a":2.30,"b":2.52,"t":"s"},{"p":9,"y":2.08,"a":2.20,"b":2.24,"t":"s"},{"p":9,"y":2.08,"a":2.34,"b":2.54,"t":"s"},{"p":9,"y":2.12,"a":2.37,"b":2.58,"t":"s"},{"p":9,"y":2.16,"a":2.46,"b":2.60,"t":"s"},{"p":9,"y":2.20,"a":2.50,"b":2.60,"t":"s"},{"p":9,"y":2.24,"a":2.54,"b":2.63,"t":"s"},{"p":9,"y":2.28,"a":2.58,"b":2.67,"t":"s"},{"p":9,"y":2.32,"a":2.62,"b":2.65,"t":"v"}],
"hot":[
{"p":1,"a":0.767,"y":1.116,"b":1.167,"z":1.448,"t":"h3"},{"p":1,"a":1.167,"y":1.448,"b":1.388,"z":1.677,"t":"h2"},{"p":1,"a":1.116,"y":0.762,"b":1.431,"z":1.133,"t":"h3"},{"p":1,"a":1.431,"y":1.133,"b":1.66,"z":1.405,"t":"h2"},{"p":1,"a":1.992,"y":1.992,"b":2.256,"z":2.29,"t":"h4"},{"p":1,"a":2.094,"y":2.12,"b":2.137,"z":2.154,"t":"h5"},{"p":1,"a":2.35,"y":1.66,"b":2.477,"z":1.763,"t":"h3"},{"p":1,"a":1.635,"y":2.052,"b":1.71,"z":2.035,"t":"h3"},{"p":1,"a":1.762,"y":2.154,"b":1.83,"z":2.24,"t":"h3"},{"p":1,"a":1.78,"y":2.10,"b":1.83,"z":1.967,"t":"h2"},{"p":1,"a":1.70,"y":2.12,"b":1.635,"z":2.04,"t":"h2"},{"p":1,"a":1.958,"y":1.967,"b":1.975,"z":1.848,"t":"h2"},{"p":1,"a":1.975,"y":1.848,"b":2.069,"z":1.78,"t":"h3"},{"p":1,"a":2.069,"y":1.78,"b":2.137,"z":1.797,"t":"h3"},{"p":1,"a":2.137,"y":1.797,"b":2.12,"z":1.694,"t":"h2"},{"p":1,"a":2.12,"y":1.694,"b":2.035,"z":1.643,"t":"h2"},{"p":1,"a":2.137,"y":1.797,"b":2.273,"z":1.916,"t":"h2"},{"p":1,"a":2.273,"y":1.916,"b":2.375,"z":1.967,"t":"h2"},
{"p":2,"a":0.767,"y":1.116,"b":1.167,"z":1.448,"t":"h3"},{"p":2,"a":1.167,"y":1.448,"b":1.30,"z":1.60,"t":"h2"},{"p":2,"a":1.116,"y":0.762,"b":1.431,"z":1.133,"t":"h3"},{"p":2,"a":1.431,"y":1.133,"b":1.62,"z":1.36,"t":"h2"},{"p":2,"a":1.62,"y":1.36,"b":1.72,"z":1.55,"t":"h1"},{"p":2,"a":1.55,"y":1.70,"b":1.70,"z":2.10,"t":"h1"},
{"p":3,"a":1.627,"y":2.027,"b":1.678,"z":2.086,"t":"h2"},{"p":3,"a":1.94,"y":1.603,"b":2.06,"z":1.654,"t":"h2"},{"p":3,"a":2.26,"y":1.80,"b":2.32,"z":2.1,"t":"h1"},
{"p":4,"a":1.77,"y":1.29,"b":2.0,"z":1.41,"t":"h1"},{"p":4,"a":2.0,"y":1.41,"b":2.36,"z":1.69,"t":"h0"},{"p":4,"a":2.36,"y":1.67,"b":2.44,"z":1.75,"t":"h3"},{"p":4,"a":2.44,"y":1.75,"b":2.66,"z":2.02,"t":"h0"},{"p":4,"a":1.29,"y":1.79,"b":1.39,"z":1.99,"t":"h1"},{"p":4,"a":1.39,"y":1.99,"b":1.70,"z":2.6,"t":"h0"},
{"p":5,"a":1.166,"y":1.493,"b":1.217,"z":1.433,"t":"h0"},{"p":5,"a":1.217,"y":1.433,"b":1.407,"z":1.416,"t":"h0"},{"p":5,"a":1.407,"y":1.416,"b":1.666,"z":1.528,"t":"h0"},{"p":5,"a":1.666,"y":1.528,"b":1.82,"z":1.63,"t":"h0"},{"p":5,"a":1.82,"y":1.63,"b":2.08,"z":1.622,"t":"h0"},{"p":5,"a":2.08,"y":1.622,"b":2.30,"z":1.683,"t":"h0"},{"p":5,"a":1.459,"y":1.838,"b":1.424,"z":1.407,"t":"h0"},{"p":5,"a":1.424,"y":1.407,"b":1.407,"z":1.286,"t":"h0"},{"p":5,"a":1.407,"y":1.286,"b":1.562,"z":1.114,"t":"h0"},{"p":5,"a":1.924,"y":2.252,"b":2.028,"z":2.062,"t":"h0"},{"p":5,"a":2.028,"y":2.062,"b":2.13,"z":2.01,"t":"h0"},{"p":5,"a":2.13,"y":2.01,"b":2.286,"z":2.08,"t":"h0"},{"p":5,"a":1.872,"y":2.252,"b":2.01,"z":2.286,"t":"h0"},
{"p":6,"a":1.47,"y":2.21,"b":1.75,"z":2.16,"t":"h0"},{"p":6,"a":1.75,"y":2.16,"b":2.144,"z":2.142,"t":"h0"},{"p":6,"a":2.144,"y":2.142,"b":2.16,"z":1.70,"t":"h0"},
{"p":7,"a":1.78,"y":2.09,"b":1.78,"z":2.0,"t":"h1"},{"p":7,"a":2.05,"y":1.82,"b":2.12,"z":1.90,"t":"h1"},{"p":7,"a":2.19,"y":1.84,"b":2.40,"z":1.94,"t":"h0"},
{"p":8,"a":1.66,"y":2.15,"b":1.98,"z":2.08,"t":"h0"},{"p":8,"a":1.98,"y":2.08,"b":2.12,"z":2.08,"t":"h0"},{"p":8,"a":2.09,"y":2.0,"b":2.11,"z":1.7,"t":"h0"},{"p":8,"a":1.70,"y":2.03,"b":1.85,"z":1.98,"t":"h0"},
{"p":9,"a":2.06,"y":1.62,"b":2.12,"z":1.66,"t":"h1"}]
},
"align":"none","spacing":0,
"vconcat":[
{"align":"none","spacing":0,"hconcat":[
{"width":1,"height":1,"data":{"values":[{}]},"mark":{"type":"rule","opacity":0},"encoding":{}},
{"align":"none","spacing":0,"vconcat":[{"width":1,"height":11,"data":{"values":[{}]},"mark":{"type":"rule","opacity":0},"encoding":{}},
{"width":1072,"height":1070,"view":{"stroke":"#8c8c8c","strokeWidth":4},"layer":[
{"data":{"name":"cloud"},"mark":{"type":"rule","color":"#1c2cf5"},"encoding":{"x":{"field":"a","type":"quantitative","scale":{"domain":[0.4,3],"nice":false,"zero":false},"axis":{"values":[0.6,0.8,1,1.2,1.4,1.6,1.8,2,2.2,2.4,2.6,2.8],"format":".1f"}},"x2":{"field":"b"},"y":{"field":"y","type":"quantitative","scale":{"domain":[0.4,3],"nice":false,"zero":false},"axis":{"values":[0.6,0.8,1,1.2,1.4,1.6,1.8,2,2.2,2.4,2.6,2.8],"format":".1f"}},"strokeDash":{"field":"t","type":"nominal","scale":{"domain":["a","b","d","s","v","m","h0","h1","h2","h3","h4","h5"],"range":[[13,2],[6,5],[8,4],[6,5],[5,8],[5,6],[1,0],[1,0],[1,0],[1,0],[1,0],[1,0]]}},"size":{"field":"t","type":"nominal","scale":{"type":"ordinal","domain":["a","b","d","s","v","m","h0","h1","h2","h3","h4","h5","L","M","T"],"range":[16,10,13,10,7,8,7,8,8,7,7,7,80,44,58]}}}},
{"data":{"name":"blue"},"transform":[{"filter":"datum.p==1"}],"mark":{"type":"rule"},"encoding":{"x":{"field":"a","type":"quantitative"},"x2":{"field":"b"},"y":{"field":"y","type":"quantitative"},"strokeDash":{"field":"t","type":"nominal"},"size":{"field":"t","type":"nominal","scale":{"type":"ordinal"}},"color":{"field":"t","type":"nominal","scale":{"domain":["d","s","v","m","h0","h1","h2","h3","h4","h5"],"range":["#1430f5","#1430f5","#1430f5","#0a90f0","#1430f5","#0a78f5","#00c0e8","#20e8a0","#40e070","#e85030"]}}}},
{"data":{"name":"hot"},"transform":[{"filter":"datum.p==1"}],"mark":{"type":"rule"},"encoding":{"x":{"field":"a","type":"quantitative"},"x2":{"field":"b"},"y":{"field":"y","type":"quantitative"},"y2":{"field":"z"},"size":{"field":"t","type":"nominal","scale":{"type":"ordinal"}},"color":{"field":"t","type":"nominal"}}},
{"data":{"name":"labels"},"transform":[{"filter":"datum.p==0||datum.p==1"}],"mark":{"type":"text","font":"Liberation Sans","fontStyle":"italic","align":"left","baseline":"alphabetic","color":"#111111"},"encoding":{"x":{"field":"a","type":"quantitative"},"y":{"field":"y","type":"quantitative"},"text":{"field":"s"},"size":{"field":"t","type":"nominal","scale":{"type":"ordinal"}}}},
{"data":{"name":"unit"},"mark":{"type":"text","font":"Liberation Mono","fontSize":28,"color":"#777777","align":"center","baseline":"middle"},"encoding":{"x":{"field":"a","type":"quantitative"},"y":{"field":"y","type":"quantitative"},"text":{"field":"s"}}}
]}]},
{"width":47,"height":1,"data":{"values":[{}]},"mark":{"type":"rule","opacity":0},"encoding":{}},
{"width":1078,"height":1076,"view":{"stroke":"#8c8c8c","strokeWidth":4},"layer":[
{"data":{"name":"cloud"},"mark":{"type":"rule","color":"#b9b9b9"},"encoding":{"x":{"field":"a","type":"quantitative","scale":{"domain":[0.4,3],"nice":false,"zero":false},"axis":{"values":[0.6,0.8,1,1.2,1.4,1.6,1.8,2,2.2,2.4,2.6,2.8],"format":".1f"}},"x2":{"field":"b"},"y":{"field":"y","type":"quantitative","scale":{"domain":[0.4,3],"nice":false,"zero":false},"axis":{"values":[0.6,0.8,1,1.2,1.4,1.6,1.8,2,2.2,2.4,2.6,2.8],"format":".1f"}},"strokeDash":{"field":"t","type":"nominal","scale":{"domain":["a","b","d","s","v","m","h0","h1","h2","h3","h4","h5"],"range":[[13,2],[6,5],[8,4],[6,5],[5,8],[5,6],[1,0],[1,0],[1,0],[1,0],[1,0],[1,0]]}},"size":{"field":"t","type":"nominal","scale":{"type":"ordinal","domain":["a","b","d","s","v","m","h0","h1","h2","h3","h4","h5","L","M","T"],"range":[16,10,13,10,7,8,7,8,8,7,7,7,80,44,58]}}}},
{"data":{"name":"blue"},"transform":[{"filter":"datum.p==2"}],"mark":{"type":"rule"},"encoding":{"x":{"field":"a","type":"quantitative"},"x2":{"field":"b"},"y":{"field":"y","type":"quantitative"},"strokeDash":{"field":"t","type":"nominal"},"size":{"field":"t","type":"nominal","scale":{"type":"ordinal"}},"color":{"field":"t","type":"nominal","scale":{"domain":["d","s","v","m","h0","h1","h2","h3","h4","h5"],"range":["#1430f5","#1430f5","#1430f5","#0a90f0","#1430f5","#0a78f5","#00c0e8","#20e8a0","#40e070","#e85030"]}}}},
{"data":{"name":"hot"},"transform":[{"filter":"datum.p==2"}],"mark":{"type":"rule"},"encoding":{"x":{"field":"a","type":"quantitative"},"x2":{"field":"b"},"y":{"field":"y","type":"quantitative"},"y2":{"field":"z"},"size":{"field":"t","type":"nominal","scale":{"type":"ordinal"}},"color":{"field":"t","type":"nominal"}}},
{"data":{"name":"labels"},"transform":[{"filter":"datum.p==0||datum.p==2"}],"mark":{"type":"text","font":"Liberation Sans","fontStyle":"italic","align":"left","baseline":"alphabetic","color":"#111111"},"encoding":{"x":{"field":"a","type":"quantitative"},"y":{"field":"y","type":"quantitative"},"text":{"field":"s"},"size":{"field":"t","type":"nominal","scale":{"type":"ordinal"}}}},
{"data":{"name":"unit"},"mark":{"type":"text","font":"Liberation Mono","fontSize":28,"color":"#777777","align":"center","baseline":"middle"},"encoding":{"x":{"field":"a","type":"quantitative"},"y":{"field":"y","type":"quantitative"},"text":{"field":"s"}}}
]},
{"width":48,"height":1,"data":{"values":[{}]},"mark":{"type":"rule","opacity":0},"encoding":{}},
{"width":1077,"height":1077,"view":{"stroke":"#8c8c8c","strokeWidth":4},"layer":[
{"data":{"name":"cloud"},"mark":{"type":"rule","color":"#b9b9b9"},"encoding":{"x":{"field":"a","type":"quantitative","scale":{"domain":[0.4,3],"nice":false,"zero":false},"axis":{"values":[0.6,0.8,1,1.2,1.4,1.6,1.8,2,2.2,2.4,2.6,2.8],"format":".1f"}},"x2":{"field":"b"},"y":{"field":"y","type":"quantitative","scale":{"domain":[0.4,3],"nice":false,"zero":false},"axis":{"values":[0.6,0.8,1,1.2,1.4,1.6,1.8,2,2.2,2.4,2.6,2.8],"format":".1f"}},"strokeDash":{"field":"t","type":"nominal","scale":{"domain":["a","b","d","s","v","m","h0","h1","h2","h3","h4","h5"],"range":[[13,2],[6,5],[8,4],[6,5],[5,8],[5,6],[1,0],[1,0],[1,0],[1,0],[1,0],[1,0]]}},"size":{"field":"t","type":"nominal","scale":{"type":"ordinal","domain":["a","b","d","s","v","m","h0","h1","h2","h3","h4","h5","L","M","T"],"range":[16,10,13,10,7,8,7,8,8,7,7,7,80,44,58]}}}},
{"data":{"name":"blue"},"transform":[{"filter":"datum.p==3"}],"mark":{"type":"rule"},"encoding":{"x":{"field":"a","type":"quantitative"},"x2":{"field":"b"},"y":{"field":"y","type":"quantitative"},"strokeDash":{"field":"t","type":"nominal"},"size":{"field":"t","type":"nominal","scale":{"type":"ordinal"}},"color":{"field":"t","type":"nominal","scale":{"domain":["d","s","v","m","h0","h1","h2","h3","h4","h5"],"range":["#1430f5","#1430f5","#1430f5","#0a90f0","#1430f5","#0a78f5","#00c0e8","#20e8a0","#40e070","#e85030"]}}}},
{"data":{"name":"hot"},"transform":[{"filter":"datum.p==3"}],"mark":{"type":"rule"},"encoding":{"x":{"field":"a","type":"quantitative"},"x2":{"field":"b"},"y":{"field":"y","type":"quantitative"},"y2":{"field":"z"},"size":{"field":"t","type":"nominal","scale":{"type":"ordinal"}},"color":{"field":"t","type":"nominal"}}},
{"data":{"name":"labels"},"transform":[{"filter":"datum.p==0||datum.p==3"}],"mark":{"type":"text","font":"Liberation Sans","fontStyle":"italic","align":"left","baseline":"alphabetic","color":"#111111"},"encoding":{"x":{"field":"a","type":"quantitative"},"y":{"field":"y","type":"quantitative"},"text":{"field":"s"},"size":{"field":"t","type":"nominal","scale":{"type":"ordinal"}}}},
{"data":{"name":"unit"},"mark":{"type":"text","font":"Liberation Mono","fontSize":28,"color":"#777777","align":"center","baseline":"middle"},"encoding":{"x":{"field":"a","type":"quantitative"},"y":{"field":"y","type":"quantitative"},"text":{"field":"s"}}}
]}
]},
{"align":"none","spacing":0,"hconcat":[
{"width":32,"height":1,"data":{"values":[{}]},"mark":{"type":"rule","opacity":0},"encoding":{}},
{"align":"none","spacing":0,"vconcat":[{"width":1,"height":148,"data":{"values":[{}]},"mark":{"type":"rule","opacity":0},"encoding":{}},
{"width":1069,"height":1067,"view":{"stroke":"#8c8c8c","strokeWidth":4},"layer":[
{"data":{"name":"cloud"},"mark":{"type":"rule","color":"#b9b9b9"},"encoding":{"x":{"field":"a","type":"quantitative","scale":{"domain":[0.4,3],"nice":false,"zero":false},"axis":{"values":[0.6,0.8,1,1.2,1.4,1.6,1.8,2,2.2,2.4,2.6,2.8],"format":".1f"}},"x2":{"field":"b"},"y":{"field":"y","type":"quantitative","scale":{"domain":[0.4,3],"nice":false,"zero":false},"axis":{"values":[0.6,0.8,1,1.2,1.4,1.6,1.8,2,2.2,2.4,2.6,2.8],"format":".1f"}},"strokeDash":{"field":"t","type":"nominal","scale":{"domain":["a","b","d","s","v","m","h0","h1","h2","h3","h4","h5"],"range":[[13,2],[6,5],[8,4],[6,5],[5,8],[5,6],[1,0],[1,0],[1,0],[1,0],[1,0],[1,0]]}},"size":{"field":"t","type":"nominal","scale":{"type":"ordinal","domain":["a","b","d","s","v","m","h0","h1","h2","h3","h4","h5","L","M","T"],"range":[16,10,13,10,7,8,7,8,8,7,7,7,80,44,58]}}}},
{"data":{"name":"blue"},"transform":[{"filter":"datum.p==4"}],"mark":{"type":"rule"},"encoding":{"x":{"field":"a","type":"quantitative"},"x2":{"field":"b"},"y":{"field":"y","type":"quantitative"},"strokeDash":{"field":"t","type":"nominal"},"size":{"field":"t","type":"nominal","scale":{"type":"ordinal"}},"color":{"field":"t","type":"nominal","scale":{"domain":["d","s","v","m","h0","h1","h2","h3","h4","h5"],"range":["#1430f5","#1430f5","#1430f5","#0a90f0","#1430f5","#0a78f5","#00c0e8","#20e8a0","#40e070","#e85030"]}}}},
{"data":{"name":"hot"},"transform":[{"filter":"datum.p==4"}],"mark":{"type":"rule"},"encoding":{"x":{"field":"a","type":"quantitative"},"x2":{"field":"b"},"y":{"field":"y","type":"quantitative"},"y2":{"field":"z"},"size":{"field":"t","type":"nominal","scale":{"type":"ordinal"}},"color":{"field":"t","type":"nominal"}}},
{"data":{"name":"labels"},"transform":[{"filter":"datum.p==0||datum.p==4"}],"mark":{"type":"text","font":"Liberation Sans","fontStyle":"italic","align":"left","baseline":"alphabetic","color":"#111111"},"encoding":{"x":{"field":"a","type":"quantitative"},"y":{"field":"y","type":"quantitative"},"text":{"field":"s"},"size":{"field":"t","type":"nominal","scale":{"type":"ordinal"}}}},
{"data":{"name":"unit"},"mark":{"type":"text","font":"Liberation Mono","fontSize":28,"color":"#777777","align":"center","baseline":"middle"},"encoding":{"x":{"field":"a","type":"quantitative"},"y":{"field":"y","type":"quantitative"},"text":{"field":"s"}}}
]}]},
{"width":46,"height":1,"data":{"values":[{}]},"mark":{"type":"rule","opacity":0},"encoding":{}},
{"align":"none","spacing":0,"vconcat":[{"width":1,"height":158,"data":{"values":[{}]},"mark":{"type":"rule","opacity":0},"encoding":{}},
{"width":1059,"height":1059,"view":{"stroke":"#8c8c8c","strokeWidth":4},"layer":[
{"data":{"name":"cloud"},"mark":{"type":"rule","color":"#b9b9b9"},"encoding":{"x":{"field":"a","type":"quantitative","scale":{"domain":[0.4,3],"nice":false,"zero":false},"axis":{"values":[0.6,0.8,1,1.2,1.4,1.6,1.8,2,2.2,2.4,2.6,2.8],"format":".1f"}},"x2":{"field":"b"},"y":{"field":"y","type":"quantitative","scale":{"domain":[0.4,3],"nice":false,"zero":false},"axis":{"values":[0.6,0.8,1,1.2,1.4,1.6,1.8,2,2.2,2.4,2.6,2.8],"format":".1f"}},"strokeDash":{"field":"t","type":"nominal","scale":{"domain":["a","b","d","s","v","m","h0","h1","h2","h3","h4","h5"],"range":[[13,2],[6,5],[8,4],[6,5],[5,8],[5,6],[1,0],[1,0],[1,0],[1,0],[1,0],[1,0]]}},"size":{"field":"t","type":"nominal","scale":{"type":"ordinal","domain":["a","b","d","s","v","m","h0","h1","h2","h3","h4","h5","L","M","T"],"range":[16,10,13,10,7,8,7,8,8,7,7,7,80,44,58]}}}},
{"data":{"name":"blue"},"transform":[{"filter":"datum.p==5"}],"mark":{"type":"rule"},"encoding":{"x":{"field":"a","type":"quantitative"},"x2":{"field":"b"},"y":{"field":"y","type":"quantitative"},"strokeDash":{"field":"t","type":"nominal"},"size":{"field":"t","type":"nominal","scale":{"type":"ordinal"}},"color":{"field":"t","type":"nominal","scale":{"domain":["d","s","v","m","h0","h1","h2","h3","h4","h5"],"range":["#1430f5","#1430f5","#1430f5","#0a90f0","#1430f5","#0a78f5","#00c0e8","#20e8a0","#40e070","#e85030"]}}}},
{"data":{"name":"hot"},"transform":[{"filter":"datum.p==5"}],"mark":{"type":"rule"},"encoding":{"x":{"field":"a","type":"quantitative"},"x2":{"field":"b"},"y":{"field":"y","type":"quantitative"},"y2":{"field":"z"},"size":{"field":"t","type":"nominal","scale":{"type":"ordinal"}},"color":{"field":"t","type":"nominal"}}},
{"data":{"name":"labels"},"transform":[{"filter":"datum.p==0||datum.p==5"}],"mark":{"type":"text","font":"Liberation Sans","fontStyle":"italic","align":"left","baseline":"alphabetic","color":"#111111"},"encoding":{"x":{"field":"a","type":"quantitative"},"y":{"field":"y","type":"quantitative"},"text":{"field":"s"},"size":{"field":"t","type":"nominal","scale":{"type":"ordinal"}}}},
{"data":{"name":"unit"},"mark":{"type":"text","font":"Liberation Mono","fontSize":28,"color":"#777777","align":"center","baseline":"middle"},"encoding":{"x":{"field":"a","type":"quantitative"},"y":{"field":"y","type":"quantitative"},"text":{"field":"s"}}}
]}]},
{"width":43,"height":1,"data":{"values":[{}]},"mark":{"type":"rule","opacity":0},"encoding":{}},
{"align":"none","spacing":0,"vconcat":[{"width":1,"height":172,"data":{"values":[{}]},"mark":{"type":"rule","opacity":0},"encoding":{}},
{"width":1047,"height":1045,"view":{"stroke":"#8c8c8c","strokeWidth":4},"layer":[
{"data":{"name":"cloud"},"mark":{"type":"rule","color":"#b9b9b9"},"encoding":{"x":{"field":"a","type":"quantitative","scale":{"domain":[0.4,3],"nice":false,"zero":false},"axis":{"values":[0.6,0.8,1,1.2,1.4,1.6,1.8,2,2.2,2.4,2.6,2.8],"format":".1f"}},"x2":{"field":"b"},"y":{"field":"y","type":"quantitative","scale":{"domain":[0.4,3],"nice":false,"zero":false},"axis":{"values":[0.6,0.8,1,1.2,1.4,1.6,1.8,2,2.2,2.4,2.6,2.8],"format":".1f"}},"strokeDash":{"field":"t","type":"nominal","scale":{"domain":["a","b","d","s","v","m","h0","h1","h2","h3","h4","h5"],"range":[[13,2],[6,5],[8,4],[6,5],[5,8],[5,6],[1,0],[1,0],[1,0],[1,0],[1,0],[1,0]]}},"size":{"field":"t","type":"nominal","scale":{"type":"ordinal","domain":["a","b","d","s","v","m","h0","h1","h2","h3","h4","h5","L","M","T"],"range":[16,10,13,10,7,8,7,8,8,7,7,7,80,44,58]}}}},
{"data":{"name":"blue"},"transform":[{"filter":"datum.p==6"}],"mark":{"type":"rule"},"encoding":{"x":{"field":"a","type":"quantitative"},"x2":{"field":"b"},"y":{"field":"y","type":"quantitative"},"strokeDash":{"field":"t","type":"nominal"},"size":{"field":"t","type":"nominal","scale":{"type":"ordinal"}},"color":{"field":"t","type":"nominal","scale":{"domain":["d","s","v","m","h0","h1","h2","h3","h4","h5"],"range":["#1430f5","#1430f5","#1430f5","#0a90f0","#1430f5","#0a78f5","#00c0e8","#20e8a0","#40e070","#e85030"]}}}},
{"data":{"name":"hot"},"transform":[{"filter":"datum.p==6"}],"mark":{"type":"rule"},"encoding":{"x":{"field":"a","type":"quantitative"},"x2":{"field":"b"},"y":{"field":"y","type":"quantitative"},"y2":{"field":"z"},"size":{"field":"t","type":"nominal","scale":{"type":"ordinal"}},"color":{"field":"t","type":"nominal"}}},
{"data":{"name":"labels"},"transform":[{"filter":"datum.p==0||datum.p==6"}],"mark":{"type":"text","font":"Liberation Sans","fontStyle":"italic","align":"left","baseline":"alphabetic","color":"#111111"},"encoding":{"x":{"field":"a","type":"quantitative"},"y":{"field":"y","type":"quantitative"},"text":{"field":"s"},"size":{"field":"t","type":"nominal","scale":{"type":"ordinal"}}}},
{"data":{"name":"unit"},"mark":{"type":"text","font":"Liberation Mono","fontSize":28,"color":"#777777","align":"center","baseline":"middle"},"encoding":{"x":{"field":"a","type":"quantitative"},"y":{"field":"y","type":"quantitative"},"text":{"field":"s"}}}
]}]}
]},
{"align":"none","spacing":0,"hconcat":[
{"width":77,"height":1,"data":{"values":[{}]},"mark":{"type":"rule","opacity":0},"encoding":{}},
{"align":"none","spacing":0,"vconcat":[{"width":1,"height":101,"data":{"values":[{}]},"mark":{"type":"rule","opacity":0},"encoding":{}},
{"width":1048,"height":1048,"view":{"stroke":"#8c8c8c","strokeWidth":4},"layer":[
{"data":{"name":"cloud"},"mark":{"type":"rule","color":"#b9b9b9"},"encoding":{"x":{"field":"a","type":"quantitative","scale":{"domain":[0.4,3],"nice":false,"zero":false},"axis":{"values":[0.6,0.8,1,1.2,1.4,1.6,1.8,2,2.2,2.4,2.6,2.8],"format":".1f"}},"x2":{"field":"b"},"y":{"field":"y","type":"quantitative","scale":{"domain":[0.4,3],"nice":false,"zero":false},"axis":{"values":[0.6,0.8,1,1.2,1.4,1.6,1.8,2,2.2,2.4,2.6,2.8],"format":".1f"}},"strokeDash":{"field":"t","type":"nominal","scale":{"domain":["a","b","d","s","v","m","h0","h1","h2","h3","h4","h5"],"range":[[13,2],[6,5],[8,4],[6,5],[5,8],[5,6],[1,0],[1,0],[1,0],[1,0],[1,0],[1,0]]}},"size":{"field":"t","type":"nominal","scale":{"type":"ordinal","domain":["a","b","d","s","v","m","h0","h1","h2","h3","h4","h5","L","M","T"],"range":[16,10,13,10,7,8,7,8,8,7,7,7,80,44,58]}}}},
{"data":{"name":"blue"},"transform":[{"filter":"datum.p==7"}],"mark":{"type":"rule"},"encoding":{"x":{"field":"a","type":"quantitative"},"x2":{"field":"b"},"y":{"field":"y","type":"quantitative"},"strokeDash":{"field":"t","type":"nominal"},"size":{"field":"t","type":"nominal","scale":{"type":"ordinal"}},"color":{"field":"t","type":"nominal","scale":{"domain":["d","s","v","m","h0","h1","h2","h3","h4","h5"],"range":["#1430f5","#1430f5","#1430f5","#0a90f0","#1430f5","#0a78f5","#00c0e8","#20e8a0","#40e070","#e85030"]}}}},
{"data":{"name":"hot"},"transform":[{"filter":"datum.p==7"}],"mark":{"type":"rule"},"encoding":{"x":{"field":"a","type":"quantitative"},"x2":{"field":"b"},"y":{"field":"y","type":"quantitative"},"y2":{"field":"z"},"size":{"field":"t","type":"nominal","scale":{"type":"ordinal"}},"color":{"field":"t","type":"nominal"}}},
{"data":{"name":"labels"},"transform":[{"filter":"datum.p==0||datum.p==7"}],"mark":{"type":"text","font":"Liberation Sans","fontStyle":"italic","align":"left","baseline":"alphabetic","color":"#111111"},"encoding":{"x":{"field":"a","type":"quantitative"},"y":{"field":"y","type":"quantitative"},"text":{"field":"s"},"size":{"field":"t","type":"nominal","scale":{"type":"ordinal"}}}},
{"data":{"name":"unit"},"mark":{"type":"text","font":"Liberation Mono","fontSize":28,"color":"#777777","align":"center","baseline":"middle"},"encoding":{"x":{"field":"a","type":"quantitative"},"y":{"field":"y","type":"quantitative"},"text":{"field":"s"}}}
]}]},
{"width":43,"height":1,"data":{"values":[{}]},"mark":{"type":"rule","opacity":0},"encoding":{}},
{"align":"none","spacing":0,"vconcat":[{"width":1,"height":120,"data":{"values":[{}]},"mark":{"type":"rule","opacity":0},"encoding":{}},
{"width":1026,"height":1024,"view":{"stroke":"#8c8c8c","strokeWidth":4},"layer":[
{"data":{"name":"cloud"},"mark":{"type":"rule","color":"#b9b9b9"},"encoding":{"x":{"field":"a","type":"quantitative","scale":{"domain":[0.4,3],"nice":false,"zero":false},"axis":{"values":[0.6,0.8,1,1.2,1.4,1.6,1.8,2,2.2,2.4,2.6,2.8],"format":".1f"}},"x2":{"field":"b"},"y":{"field":"y","type":"quantitative","scale":{"domain":[0.4,3],"nice":false,"zero":false},"axis":{"values":[0.6,0.8,1,1.2,1.4,1.6,1.8,2,2.2,2.4,2.6,2.8],"format":".1f"}},"strokeDash":{"field":"t","type":"nominal","scale":{"domain":["a","b","d","s","v","m","h0","h1","h2","h3","h4","h5"],"range":[[13,2],[6,5],[8,4],[6,5],[5,8],[5,6],[1,0],[1,0],[1,0],[1,0],[1,0],[1,0]]}},"size":{"field":"t","type":"nominal","scale":{"type":"ordinal","domain":["a","b","d","s","v","m","h0","h1","h2","h3","h4","h5","L","M","T"],"range":[16,10,13,10,7,8,7,8,8,7,7,7,80,44,58]}}}},
{"data":{"name":"blue"},"transform":[{"filter":"datum.p==8"}],"mark":{"type":"rule"},"encoding":{"x":{"field":"a","type":"quantitative"},"x2":{"field":"b"},"y":{"field":"y","type":"quantitative"},"strokeDash":{"field":"t","type":"nominal"},"size":{"field":"t","type":"nominal","scale":{"type":"ordinal"}},"color":{"field":"t","type":"nominal","scale":{"domain":["d","s","v","m","h0","h1","h2","h3","h4","h5"],"range":["#1430f5","#1430f5","#1430f5","#0a90f0","#1430f5","#0a78f5","#00c0e8","#20e8a0","#40e070","#e85030"]}}}},
{"data":{"name":"hot"},"transform":[{"filter":"datum.p==8"}],"mark":{"type":"rule"},"encoding":{"x":{"field":"a","type":"quantitative"},"x2":{"field":"b"},"y":{"field":"y","type":"quantitative"},"y2":{"field":"z"},"size":{"field":"t","type":"nominal","scale":{"type":"ordinal"}},"color":{"field":"t","type":"nominal"}}},
{"data":{"name":"labels"},"transform":[{"filter":"datum.p==0||datum.p==8"}],"mark":{"type":"text","font":"Liberation Sans","fontStyle":"italic","align":"left","baseline":"alphabetic","color":"#111111"},"encoding":{"x":{"field":"a","type":"quantitative"},"y":{"field":"y","type":"quantitative"},"text":{"field":"s"},"size":{"field":"t","type":"nominal","scale":{"type":"ordinal"}}}},
{"data":{"name":"unit"},"mark":{"type":"text","font":"Liberation Mono","fontSize":28,"color":"#777777","align":"center","baseline":"middle"},"encoding":{"x":{"field":"a","type":"quantitative"},"y":{"field":"y","type":"quantitative"},"text":{"field":"s"}}}
]}]},
{"width":40,"height":1,"data":{"values":[{}]},"mark":{"type":"rule","opacity":0},"encoding":{}},
{"align":"none","spacing":0,"vconcat":[{"width":1,"height":129,"data":{"values":[{}]},"mark":{"type":"rule","opacity":0},"encoding":{}},
{"width":1020,"height":1018,"view":{"stroke":"#8c8c8c","strokeWidth":4},"layer":[
{"data":{"name":"cloud"},"mark":{"type":"rule","color":"#b9b9b9"},"encoding":{"x":{"field":"a","type":"quantitative","scale":{"domain":[0.4,3],"nice":false,"zero":false},"axis":{"values":[0.6,0.8,1,1.2,1.4,1.6,1.8,2,2.2,2.4,2.6,2.8],"format":".1f"}},"x2":{"field":"b"},"y":{"field":"y","type":"quantitative","scale":{"domain":[0.4,3],"nice":false,"zero":false},"axis":{"values":[0.6,0.8,1,1.2,1.4,1.6,1.8,2,2.2,2.4,2.6,2.8],"format":".1f"}},"strokeDash":{"field":"t","type":"nominal","scale":{"domain":["a","b","d","s","v","m","h0","h1","h2","h3","h4","h5"],"range":[[13,2],[6,5],[8,4],[6,5],[5,8],[5,6],[1,0],[1,0],[1,0],[1,0],[1,0],[1,0]]}},"size":{"field":"t","type":"nominal","scale":{"type":"ordinal","domain":["a","b","d","s","v","m","h0","h1","h2","h3","h4","h5","L","M","T"],"range":[16,10,13,10,7,8,7,8,8,7,7,7,80,44,58]}}}},
{"data":{"name":"blue"},"transform":[{"filter":"datum.p==9"}],"mark":{"type":"rule"},"encoding":{"x":{"field":"a","type":"quantitative"},"x2":{"field":"b"},"y":{"field":"y","type":"quantitative"},"strokeDash":{"field":"t","type":"nominal"},"size":{"field":"t","type":"nominal","scale":{"type":"ordinal"}},"color":{"field":"t","type":"nominal","scale":{"domain":["d","s","v","m","h0","h1","h2","h3","h4","h5"],"range":["#1430f5","#1430f5","#1430f5","#0a90f0","#1430f5","#0a78f5","#00c0e8","#20e8a0","#40e070","#e85030"]}}}},
{"data":{"name":"hot"},"transform":[{"filter":"datum.p==9"}],"mark":{"type":"rule"},"encoding":{"x":{"field":"a","type":"quantitative"},"x2":{"field":"b"},"y":{"field":"y","type":"quantitative"},"y2":{"field":"z"},"size":{"field":"t","type":"nominal","scale":{"type":"ordinal"}},"color":{"field":"t","type":"nominal"}}},
{"data":{"name":"labels"},"transform":[{"filter":"datum.p==0||datum.p==9"}],"mark":{"type":"text","font":"Liberation Sans","fontStyle":"italic","align":"left","baseline":"alphabetic","color":"#111111"},"encoding":{"x":{"field":"a","type":"quantitative"},"y":{"field":"y","type":"quantitative"},"text":{"field":"s"},"size":{"field":"t","type":"nominal","scale":{"type":"ordinal"}}}},
{"data":{"name":"unit"},"mark":{"type":"text","font":"Liberation Mono","fontSize":28,"color":"#777777","align":"center","baseline":"middle"},"encoding":{"x":{"field":"a","type":"quantitative"},"y":{"field":"y","type":"quantitative"},"text":{"field":"s"}}}
]}]}
]}
]}
